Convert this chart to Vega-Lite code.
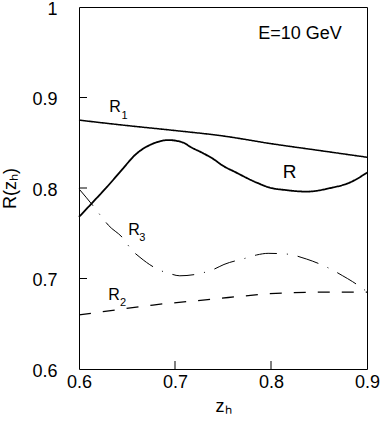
{
  "$schema": "https://vega.github.io/schema/vega-lite/v6.json",
  "width": 288,
  "height": 362,
  "autosize": {"type": "none"},
  "padding": {"left": 79, "top": 7, "right": 15, "bottom": 52},
  "background": "white",
  "config": {
    "view": {"stroke": "black", "strokeWidth": 1},
    "font": "Liberation Sans",
    "axis": {
      "grid": false,
      "domain": false,
      "ticks": false,
      "labelColor": "black",
      "titleColor": "black",
      "labelFont": "Liberation Sans",
      "titleFont": "Liberation Sans",
      "labelFontSize": 18,
      "titleFontSize": 18,
      "titleFontWeight": "normal",
      "labelFlush": false
    }
  },
  "datasets": {
    "curves": [
      {"series": "R", "z": 0.600, "R": 0.768},
      {"series": "R", "z": 0.615, "R": 0.785},
      {"series": "R", "z": 0.629, "R": 0.801},
      {"series": "R", "z": 0.643, "R": 0.818},
      {"series": "R", "z": 0.660, "R": 0.838},
      {"series": "R", "z": 0.677, "R": 0.849},
      {"series": "R", "z": 0.693, "R": 0.853},
      {"series": "R", "z": 0.709, "R": 0.850},
      {"series": "R", "z": 0.7156, "R": 0.8457},
      {"series": "R", "z": 0.7295, "R": 0.8383},
      {"series": "R", "z": 0.740, "R": 0.832},
      {"series": "R", "z": 0.750, "R": 0.8245},
      {"series": "R", "z": 0.762, "R": 0.818},
      {"series": "R", "z": 0.785, "R": 0.806},
      {"series": "R", "z": 0.800, "R": 0.800},
      {"series": "R", "z": 0.813, "R": 0.798},
      {"series": "R", "z": 0.837, "R": 0.796},
      {"series": "R", "z": 0.862, "R": 0.800},
      {"series": "R", "z": 0.882, "R": 0.806},
      {"series": "R", "z": 0.900, "R": 0.817},
      {"series": "R1", "z": 0.60, "R": 0.875},
      {"series": "R1", "z": 0.65, "R": 0.869},
      {"series": "R1", "z": 0.70, "R": 0.8635},
      {"series": "R1", "z": 0.75, "R": 0.8575},
      {"series": "R1", "z": 0.80, "R": 0.849},
      {"series": "R1", "z": 0.85, "R": 0.8415},
      {"series": "R1", "z": 0.90, "R": 0.834},
      {"series": "R2", "z": 0.600, "R": 0.6597},
      {"series": "R2", "z": 0.625, "R": 0.6633},
      {"series": "R2", "z": 0.677, "R": 0.6707},
      {"series": "R2", "z": 0.740, "R": 0.6773},
      {"series": "R2", "z": 0.7555, "R": 0.679},
      {"series": "R2", "z": 0.820, "R": 0.6843},
      {"series": "R2", "z": 0.872, "R": 0.685},
      {"series": "R2", "z": 0.900, "R": 0.685},
      {"series": "R3", "z": 0.600, "R": 0.799},
      {"series": "R3", "z": 0.6167, "R": 0.7776},
      {"series": "R3", "z": 0.6236, "R": 0.768},
      {"series": "R3", "z": 0.6305, "R": 0.759},
      {"series": "R3", "z": 0.646, "R": 0.7444},
      {"series": "R3", "z": 0.6549, "R": 0.7315},
      {"series": "R3", "z": 0.6635, "R": 0.7234},
      {"series": "R3", "z": 0.6836, "R": 0.7094},
      {"series": "R3", "z": 0.694, "R": 0.7056},
      {"series": "R3", "z": 0.705, "R": 0.703},
      {"series": "R3", "z": 0.7295, "R": 0.7064},
      {"series": "R3", "z": 0.740, "R": 0.710},
      {"series": "R3", "z": 0.751, "R": 0.7155},
      {"series": "R3", "z": 0.773, "R": 0.7223},
      {"series": "R3", "z": 0.785, "R": 0.726},
      {"series": "R3", "z": 0.797, "R": 0.7278},
      {"series": "R3", "z": 0.8198, "R": 0.7267},
      {"series": "R3", "z": 0.8313, "R": 0.7234},
      {"series": "R3", "z": 0.843, "R": 0.7193},
      {"series": "R3", "z": 0.864, "R": 0.7094},
      {"series": "R3", "z": 0.8747, "R": 0.703},
      {"series": "R3", "z": 0.885, "R": 0.6965},
      {"series": "R3", "z": 0.900, "R": 0.6854}
    ],
    "labels": [
      {"kind": "name", "z": 0.6316, "R": 0.8836, "text": "R"},
      {"kind": "sub", "z": 0.6444, "R": 0.8763, "text": "1"},
      {"kind": "name", "z": 0.6305, "R": 0.6762, "text": "R"},
      {"kind": "sub", "z": 0.6427, "R": 0.670, "text": "2"},
      {"kind": "name", "z": 0.6514, "R": 0.748, "text": "R"},
      {"kind": "sub", "z": 0.6628, "R": 0.7418, "text": "3"},
      {"kind": "main", "z": 0.8122, "R": 0.8107, "text": "R"},
      {"kind": "energy", "z": 0.8302, "R": 0.9646, "text": "E=10 GeV"}
    ],
    "xticks": [{"v": 0.7}, {"v": 0.8}],
    "yticks": [{"v": 0.7}, {"v": 0.8}, {"v": 0.9}]
  },
  "layer": [
    {
      "data": {"name": "curves"},
      "mark": {"type": "line", "interpolate": "monotone", "strokeCap": "butt"},
      "encoding": {
        "x": {
          "field": "z", "type": "quantitative",
          "scale": {"domain": [0.6, 0.9], "nice": false, "zero": false},
          "axis": {"values": [0.6, 0.7, 0.8, 0.9], "format": ".1f", "title": "zₕ", "labelPadding": 4, "titlePadding": 6}
        },
        "y": {
          "field": "R", "type": "quantitative",
          "scale": {"domain": [0.6, 1], "nice": false, "zero": false},
          "axis": {"values": [0.6, 0.7, 0.8, 0.9, 1], "format": ".1~f", "title": "R(zₕ)", "labelPadding": 22, "labelOffset": 2, "titlePadding": 12}
        },
        "color": {"field": "series", "type": "nominal", "scale": {"domain": ["R", "R1", "R2", "R3"], "range": ["black", "black", "black", "black"]}, "legend": null},
        "strokeDash": {"field": "series", "type": "nominal", "scale": {"domain": ["R", "R1", "R2", "R3"], "range": [[1, 0], [1, 0], [12, 12], [22, 10, 1, 10]]}, "legend": null},
        "strokeWidth": {"field": "series", "type": "nominal", "scale": {"domain": ["R", "R1", "R2", "R3"], "range": [1.8, 1, 1, 1]}, "legend": null}
      }
    },
    {
      "data": {"name": "xticks"},
      "mark": {"type": "tick", "orient": "vertical", "size": 16, "thickness": 1, "clip": true, "color": "black", "opacity": 1},
      "encoding": {
        "x": {"field": "v", "type": "quantitative"},
        "y": {"datum": 0.6}
      }
    },
    {
      "data": {"name": "yticks"},
      "mark": {"type": "tick", "orient": "horizontal", "size": 16, "thickness": 1, "clip": true, "color": "black", "opacity": 1},
      "encoding": {
        "x": {"datum": 0.6},
        "y": {"field": "v", "type": "quantitative"}
      }
    },
    {
      "data": {"name": "labels"},
      "transform": [{"filter": "datum.kind === 'name'"}],
      "mark": {"type": "text", "align": "left", "baseline": "alphabetic", "fontSize": 16, "color": "black"},
      "encoding": {
        "x": {"field": "z", "type": "quantitative"},
        "y": {"field": "R", "type": "quantitative"},
        "text": {"field": "text"}
      }
    },
    {
      "data": {"name": "labels"},
      "transform": [{"filter": "datum.kind === 'sub'"}],
      "mark": {"type": "text", "align": "left", "baseline": "alphabetic", "fontSize": 11, "color": "black"},
      "encoding": {
        "x": {"field": "z", "type": "quantitative"},
        "y": {"field": "R", "type": "quantitative"},
        "text": {"field": "text"}
      }
    },
    {
      "data": {"name": "labels"},
      "transform": [{"filter": "datum.kind === 'main'"}],
      "mark": {"type": "text", "align": "left", "baseline": "alphabetic", "fontSize": 19, "color": "black"},
      "encoding": {
        "x": {"field": "z", "type": "quantitative"},
        "y": {"field": "R", "type": "quantitative"},
        "text": {"field": "text"}
      }
    },
    {
      "data": {"name": "labels"},
      "transform": [{"filter": "datum.kind === 'energy'"}],
      "mark": {"type": "text", "align": "center", "baseline": "alphabetic", "fontSize": 18, "color": "black"},
      "encoding": {
        "x": {"field": "z", "type": "quantitative"},
        "y": {"field": "R", "type": "quantitative"},
        "text": {"field": "text"}
      }
    }
  ]
}
